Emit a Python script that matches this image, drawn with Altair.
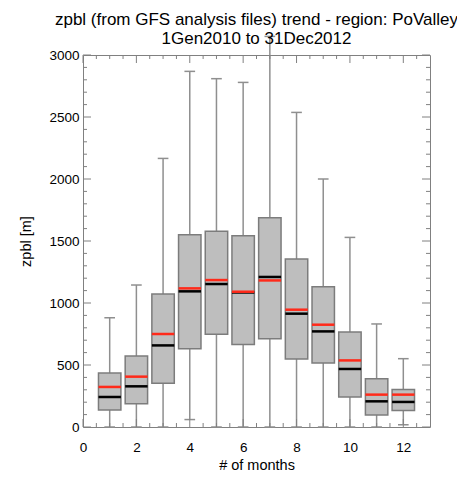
import altair as alt
import pandas as pd

# ---- data ----
months = [1, 2, 3, 4, 5, 6, 7, 8, 9, 10, 11, 12]
whisker_low = [0, 0, 0, 60, 0, 0, 0, 0, 0, 0, 0, 18]
q1 = [137, 188, 352, 631, 747, 666, 712, 548, 516, 242, 97, 134]
median = [242, 328, 658, 1094, 1153, 1085, 1210, 914, 771, 468, 207, 202]
mean = [323, 406, 750, 1118, 1185, 1091, 1182, 946, 825, 537, 261, 261]
q3 = [435, 572, 1072, 1551, 1578, 1543, 1688, 1355, 1131, 766, 390, 303]
whisker_high = [881, 1145, 2166, 2868, 2809, 2779, 3150, 2537, 2000, 1529, 831, 551]

x_major = [0, 2, 4, 6, 8, 10, 12]
x_minor = [v / 2 for v in range(1, 26) if (v / 2) not in x_major]
y_major = [0, 500, 1000, 1500, 2000, 2500, 3000]
y_minor = [v for v in range(100, 3000, 100) if v not in y_major]

W, H = 347, 372
BOX_HALF = 0.42
CAP_HALF = 0.2

df = pd.DataFrame({
    "month": months,
    "whisker_low": whisker_low,
    "q1": q1,
    "median": median,
    "mean": mean,
    "q3": q3,
    "whisker_high": whisker_high,
})

xs = alt.Scale(domain=[0, 13], nice=False, zero=False)
ys = alt.Scale(domain=[0, 3000], nice=False)

xaxis = alt.Axis(
    values=x_major, title="# of months", tickSize=0, domain=False, grid=False,
    labelPadding=13, labelFlush=False, labelOverlap=False, format="d",
    titlePadding=5)
yaxis = alt.Axis(
    values=y_major, title="zpbl [m]", tickSize=0, domain=False, grid=False,
    labelPadding=4, labelFlush=False, labelOverlap=False, format="d",
    titlePadding=15)


def X(f):
    return alt.X(f, scale=xs, axis=xaxis, title="# of months")


def Y(f):
    return alt.Y(f, scale=ys, axis=yaxis, title="zpbl [m]")


base = alt.Chart(df).transform_calculate(
    b0=f"datum.month - {BOX_HALF}",
    b1=f"datum.month + {BOX_HALF}",
    c0=f"datum.month - {CAP_HALF}",
    c1=f"datum.month + {CAP_HALF}",
)

WHISKER = "#8f8f8f"

whiskers = base.mark_rule(color=WHISKER, strokeWidth=1.5).encode(
    x=X("month:Q"), y=Y("whisker_low:Q"), y2="whisker_high:Q",
)
cap_hi = base.mark_rule(color=WHISKER, strokeWidth=1.5).encode(
    x=X("c0:Q"), x2="c1:Q", y=Y("whisker_high:Q"),
)
cap_lo = base.mark_rule(color=WHISKER, strokeWidth=1.5).encode(
    x=X("c0:Q"), x2="c1:Q", y=Y("whisker_low:Q"),
)
boxes = base.mark_rect(fill="#bebebe", stroke="#7c7c7c", strokeWidth=1.5).encode(
    x=X("b0:Q"), x2="b1:Q", y=Y("q1:Q"), y2="q3:Q",
)
med = base.mark_rule(color="black", strokeWidth=2.5).encode(
    x=X("b0:Q"), x2="b1:Q", y=Y("median:Q"),
)
mn = base.mark_rule(color="#ff2a1a", strokeWidth=2.5).encode(
    x=X("b0:Q"), x2="b1:Q", y=Y("mean:Q"),
)

TICK_COLOR = "#808080"


def yticks(vals, length):
    d = pd.DataFrame({"v": vals})
    left = alt.Chart(d).mark_rule(color=TICK_COLOR, strokeWidth=1).encode(
        y=Y("v:Q"), x=alt.value(0), x2=alt.value(length))
    right = alt.Chart(d).mark_rule(color=TICK_COLOR, strokeWidth=1).encode(
        y=Y("v:Q"), x=alt.value(W), x2=alt.value(W - length))
    return [left, right]


def xticks(vals, length):
    d = pd.DataFrame({"v": vals})
    bottom = alt.Chart(d).mark_rule(color=TICK_COLOR, strokeWidth=1).encode(
        x=X("v:Q"), y=alt.value(H), y2=alt.value(H - length))
    top = alt.Chart(d).mark_rule(color=TICK_COLOR, strokeWidth=1).encode(
        x=X("v:Q"), y=alt.value(0), y2=alt.value(length))
    return [bottom, top]


tick_layers = yticks(y_major, 8) + yticks(y_minor, 4) + xticks(x_major, 8) + xticks(x_minor, 4)

chart = alt.layer(
    whiskers, cap_hi, cap_lo, boxes, med, mn, *tick_layers
).properties(
    width=W,
    height=H,
    autosize=alt.AutoSizeParams(type="none"),
    padding={"left": 75, "top": 47, "right": 27, "bottom": 60},
    title=alt.TitleParams(
        text=["zpbl (from GFS analysis files) trend - region: PoValley",
              "1Gen2010 to 31Dec2012"],
        anchor="middle", frame="group", offset=-12,
        font="Liberation Sans", fontSize=17, fontWeight="normal",
        lineHeight=19, color="black",
    ),
).configure_view(
    stroke="#808080", strokeWidth=1
).configure_axis(
    labelFont="Liberation Sans", labelFontSize=13.5, labelColor="black",
    titleFont="Liberation Sans", titleFontSize=14.5, titleColor="black",
    titleFontWeight="normal",
)

chart.save("out.html", embed_options={"renderer": "svg", "actions": False})
